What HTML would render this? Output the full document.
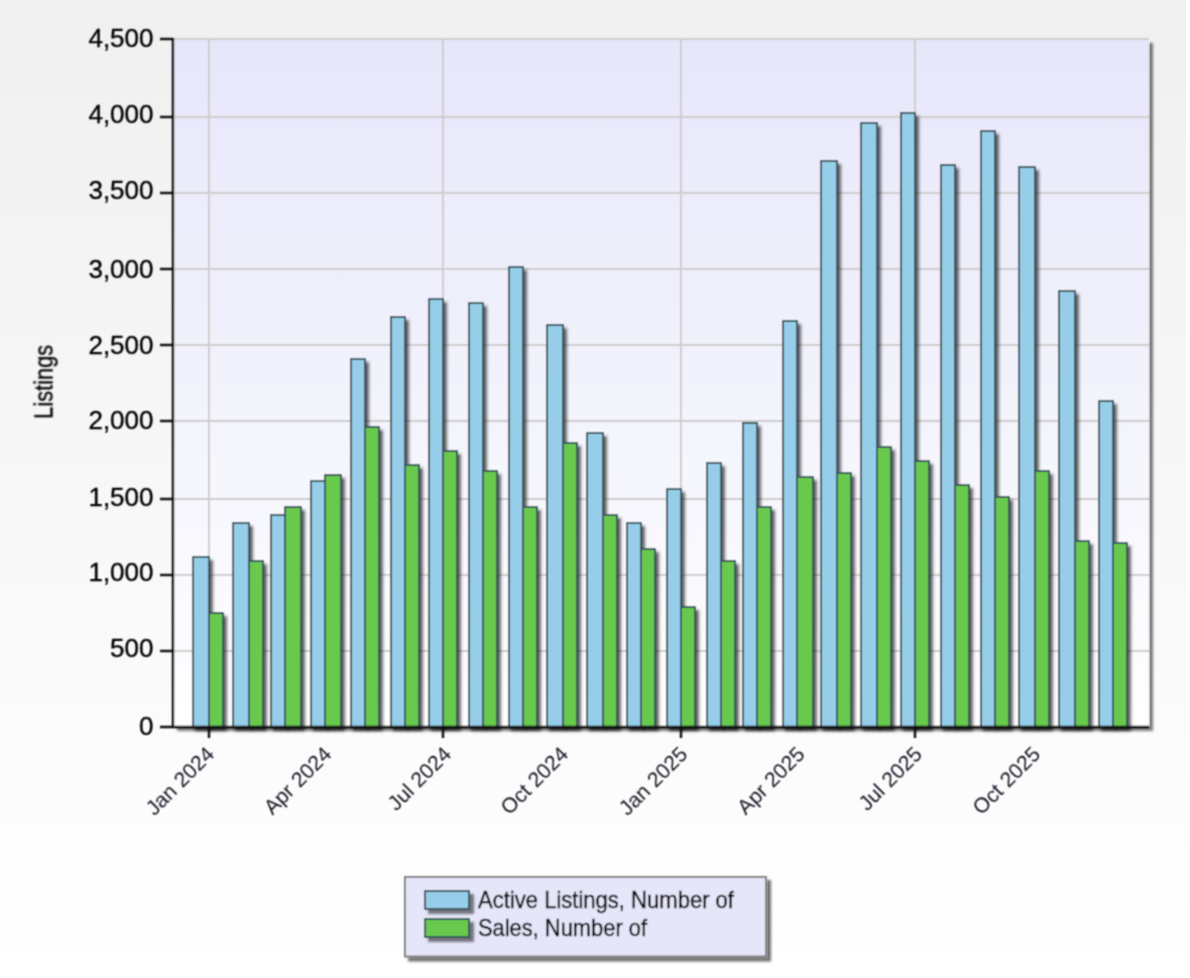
<!DOCTYPE html>
<html lang="en">
<head>
<meta charset="utf-8">
<title>Listings chart</title>
<style>
html,body{margin:0;padding:0;background:#fff;}
body{width:1190px;height:978px;overflow:hidden;}
svg{display:block;}
text{font-family:"Liberation Sans",Arial,sans-serif;fill:#000;stroke:#000;stroke-width:0.35px;}
.xl text{fill:#151520;stroke:none;}
</style>
</head>
<body>
<svg width="1190" height="978" viewBox="0 0 1190 978">
<defs>
<linearGradient id="bg" x1="0" y1="0" x2="0" y2="1"><stop offset="0" stop-color="#f0f0f0"/><stop offset="1" stop-color="#ffffff"/></linearGradient>
<linearGradient id="plot" x1="0" y1="0" x2="0" y2="1"><stop offset="0" stop-color="#e6e6fa"/><stop offset="1" stop-color="#ffffff"/></linearGradient>
<filter id="sh" x="-5%" y="-5%" width="110%" height="110%"><feGaussianBlur stdDeviation="1.1"/></filter>
<filter id="soft" filterUnits="userSpaceOnUse" x="0" y="0" width="1190" height="978"><feConvolveMatrix order="3" kernelMatrix="1 2 1 2 4 2 1 2 1" divisor="16" edgeMode="duplicate" preserveAlpha="false"/></filter>
<filter id="bs" x="-5%" y="-5%" width="110%" height="110%"><feGaussianBlur stdDeviation="1.4"/></filter>
</defs>
<rect x="0" y="0" width="1190" height="978" fill="#ffffff"/>
<rect x="0" y="0" width="1186" height="978" fill="url(#bg)"/>
<g filter="url(#soft)">
<g filter="url(#sh)" fill="#000" fill-opacity="0.5"><rect x="177" y="43" width="976" height="688"/></g>
<rect x="173" y="39" width="976" height="688" fill="url(#plot)"/>
<g stroke="#cdcdcd" stroke-width="2">
<line x1="173" y1="39" x2="1149" y2="39"/>
<line x1="173" y1="117" x2="1149" y2="117"/>
<line x1="173" y1="193" x2="1149" y2="193"/>
<line x1="173" y1="269" x2="1149" y2="269"/>
<line x1="173" y1="345" x2="1149" y2="345"/>
<line x1="173" y1="421" x2="1149" y2="421"/>
<line x1="173" y1="499" x2="1149" y2="499"/>
<line x1="173" y1="575" x2="1149" y2="575"/>
<line x1="173" y1="651" x2="1149" y2="651"/>
<line x1="209" y1="39" x2="209" y2="727"/>
<line x1="443" y1="39" x2="443" y2="727"/>
<line x1="681" y1="39" x2="681" y2="727"/>
<line x1="915" y1="39" x2="915" y2="727"/>
</g>
<g filter="url(#bs)" fill="#000" fill-opacity="0.64">
<rect x="194.8" y="560" width="18" height="171"/><rect x="210.8" y="616" width="16" height="115"/>
<rect x="234.8" y="526" width="18" height="205"/><rect x="250.8" y="564" width="16" height="167"/>
<rect x="272.8" y="518" width="16" height="213"/><rect x="286.8" y="510" width="18" height="221"/>
<rect x="312.8" y="484" width="16" height="247"/><rect x="326.8" y="478" width="18" height="253"/>
<rect x="352.8" y="362" width="16" height="369"/><rect x="366.8" y="430" width="16" height="301"/>
<rect x="392.8" y="320" width="16" height="411"/><rect x="406.8" y="468" width="16" height="263"/>
<rect x="430.8" y="302" width="16" height="429"/><rect x="444.8" y="454" width="16" height="277"/>
<rect x="470.8" y="306" width="16" height="425"/><rect x="484.8" y="474" width="16" height="257"/>
<rect x="510.8" y="270" width="16" height="461"/><rect x="524.8" y="510" width="16" height="221"/>
<rect x="548.8" y="328" width="18" height="403"/><rect x="564.8" y="446" width="16" height="285"/>
<rect x="588.8" y="436" width="18" height="295"/><rect x="604.8" y="518" width="16" height="213"/>
<rect x="628.8" y="526" width="16" height="205"/><rect x="642.8" y="552" width="16" height="179"/>
<rect x="668.8" y="492" width="16" height="239"/><rect x="682.8" y="610" width="16" height="121"/>
<rect x="708.8" y="466" width="16" height="265"/><rect x="722.8" y="564" width="16" height="167"/>
<rect x="744.8" y="426" width="16" height="305"/><rect x="758.8" y="510" width="16" height="221"/>
<rect x="784.8" y="324" width="16" height="407"/><rect x="798.8" y="480" width="18" height="251"/>
<rect x="822.8" y="164" width="18" height="567"/><rect x="838.8" y="476" width="16" height="255"/>
<rect x="862.8" y="126" width="18" height="605"/><rect x="878.8" y="450" width="16" height="281"/>
<rect x="902.8" y="116" width="16" height="615"/><rect x="916.8" y="464" width="16" height="267"/>
<rect x="942.8" y="168" width="16" height="563"/><rect x="956.8" y="488" width="16" height="243"/>
<rect x="982.8" y="134" width="16" height="597"/><rect x="996.8" y="500" width="16" height="231"/>
<rect x="1020.8" y="170" width="18" height="561"/><rect x="1036.8" y="474" width="16" height="257"/>
<rect x="1060.8" y="294" width="18" height="437"/><rect x="1076.8" y="544" width="16" height="187"/>
<rect x="1100.8" y="404" width="16" height="327"/><rect x="1114.8" y="546" width="16" height="185"/>
</g>
<g stroke="#38555C" stroke-width="2">
<rect x="193" y="557" width="16" height="170" fill="#96CEE9"/><rect x="209" y="613" width="14" height="114" fill="#69C94E"/>
<rect x="233" y="523" width="16" height="204" fill="#96CEE9"/><rect x="249" y="561" width="14" height="166" fill="#69C94E"/>
<rect x="271" y="515" width="14" height="212" fill="#96CEE9"/><rect x="285" y="507" width="16" height="220" fill="#69C94E"/>
<rect x="311" y="481" width="14" height="246" fill="#96CEE9"/><rect x="325" y="475" width="16" height="252" fill="#69C94E"/>
<rect x="351" y="359" width="14" height="368" fill="#96CEE9"/><rect x="365" y="427" width="14" height="300" fill="#69C94E"/>
<rect x="391" y="317" width="14" height="410" fill="#96CEE9"/><rect x="405" y="465" width="14" height="262" fill="#69C94E"/>
<rect x="429" y="299" width="14" height="428" fill="#96CEE9"/><rect x="443" y="451" width="14" height="276" fill="#69C94E"/>
<rect x="469" y="303" width="14" height="424" fill="#96CEE9"/><rect x="483" y="471" width="14" height="256" fill="#69C94E"/>
<rect x="509" y="267" width="14" height="460" fill="#96CEE9"/><rect x="523" y="507" width="14" height="220" fill="#69C94E"/>
<rect x="547" y="325" width="16" height="402" fill="#96CEE9"/><rect x="563" y="443" width="14" height="284" fill="#69C94E"/>
<rect x="587" y="433" width="16" height="294" fill="#96CEE9"/><rect x="603" y="515" width="14" height="212" fill="#69C94E"/>
<rect x="627" y="523" width="14" height="204" fill="#96CEE9"/><rect x="641" y="549" width="14" height="178" fill="#69C94E"/>
<rect x="667" y="489" width="14" height="238" fill="#96CEE9"/><rect x="681" y="607" width="14" height="120" fill="#69C94E"/>
<rect x="707" y="463" width="14" height="264" fill="#96CEE9"/><rect x="721" y="561" width="14" height="166" fill="#69C94E"/>
<rect x="743" y="423" width="14" height="304" fill="#96CEE9"/><rect x="757" y="507" width="14" height="220" fill="#69C94E"/>
<rect x="783" y="321" width="14" height="406" fill="#96CEE9"/><rect x="797" y="477" width="16" height="250" fill="#69C94E"/>
<rect x="821" y="161" width="16" height="566" fill="#96CEE9"/><rect x="837" y="473" width="14" height="254" fill="#69C94E"/>
<rect x="861" y="123" width="16" height="604" fill="#96CEE9"/><rect x="877" y="447" width="14" height="280" fill="#69C94E"/>
<rect x="901" y="113" width="14" height="614" fill="#96CEE9"/><rect x="915" y="461" width="14" height="266" fill="#69C94E"/>
<rect x="941" y="165" width="14" height="562" fill="#96CEE9"/><rect x="955" y="485" width="14" height="242" fill="#69C94E"/>
<rect x="981" y="131" width="14" height="596" fill="#96CEE9"/><rect x="995" y="497" width="14" height="230" fill="#69C94E"/>
<rect x="1019" y="167" width="16" height="560" fill="#96CEE9"/><rect x="1035" y="471" width="14" height="256" fill="#69C94E"/>
<rect x="1059" y="291" width="16" height="436" fill="#96CEE9"/><rect x="1075" y="541" width="14" height="186" fill="#69C94E"/>
<rect x="1099" y="401" width="14" height="326" fill="#96CEE9"/><rect x="1113" y="543" width="14" height="184" fill="#69C94E"/>
</g>
<g stroke="#0a0a0a" stroke-width="2.4">
<line x1="173" y1="38" x2="173" y2="728"/>
<line x1="160" y1="727" x2="1149" y2="727"/>
<line x1="160" y1="39" x2="173" y2="39"/>
<line x1="160" y1="117" x2="173" y2="117"/>
<line x1="160" y1="193" x2="173" y2="193"/>
<line x1="160" y1="269" x2="173" y2="269"/>
<line x1="160" y1="345" x2="173" y2="345"/>
<line x1="160" y1="421" x2="173" y2="421"/>
<line x1="160" y1="499" x2="173" y2="499"/>
<line x1="160" y1="575" x2="173" y2="575"/>
<line x1="160" y1="651" x2="173" y2="651"/>
<line x1="209" y1="727" x2="209" y2="738"/>
<line x1="443" y1="727" x2="443" y2="738"/>
<line x1="681" y1="727" x2="681" y2="738"/>
<line x1="915" y1="727" x2="915" y2="738"/>
</g>
<g font-size="26" text-anchor="end">
<text x="153.5" y="47.3">4,500</text>
<text x="153.5" y="123.0">4,000</text>
<text x="153.5" y="199.3">3,500</text>
<text x="153.5" y="277.6">3,000</text>
<text x="153.5" y="353.6">2,500</text>
<text x="153.5" y="429.1">2,000</text>
<text x="153.5" y="506.3">1,500</text>
<text x="153.5" y="580.9">1,000</text>
<text x="153.5" y="657.0">500</text>
<text x="153.5" y="735.3">0</text>
</g>
<g class="xl" font-size="21" text-anchor="end">
<text transform="translate(215.5,755.5) rotate(-45)">Jan 2024</text>
<text transform="translate(332.7,755.5) rotate(-45)">Apr 2024</text>
<text transform="translate(452.4,755.5) rotate(-45)">Jul 2024</text>
<text transform="translate(569.6,755.5) rotate(-45)">Oct 2024</text>
<text transform="translate(688.7,755.5) rotate(-45)">Jan 2025</text>
<text transform="translate(806.1,755.5) rotate(-45)">Apr 2025</text>
<text transform="translate(923.3,755.5) rotate(-45)">Jul 2025</text>
<text transform="translate(1041.6,755.5) rotate(-45)">Oct 2025</text>
</g>
<text font-size="25.5" text-anchor="middle" textLength="74" lengthAdjust="spacingAndGlyphs" transform="translate(52.5,381.8) rotate(-90)">Listings</text>
<g filter="url(#sh)" fill="#000" fill-opacity="0.55"><rect x="408" y="880" width="363" height="81.5"/></g>
<rect x="405" y="877" width="361" height="79.5" fill="#e6e6fa" stroke="#828282" stroke-width="2"/>
<g filter="url(#sh)" fill="#000" fill-opacity="0.5"><rect x="428" y="894" width="46" height="20"/><rect x="428" y="922" width="46" height="20"/></g>
<rect x="425" y="891" width="44" height="18" fill="#96CEE9" stroke="#38555C" stroke-width="2"/>
<rect x="425" y="919" width="44" height="18" fill="#69C94E" stroke="#38555C" stroke-width="2"/>
<g font-size="24.5"><text x="478" y="907.5" textLength="256" lengthAdjust="spacingAndGlyphs">Active Listings, Number of</text><text x="478" y="935.5" textLength="169" lengthAdjust="spacingAndGlyphs">Sales, Number of</text></g>
</g>
</svg>
</body>
</html>
